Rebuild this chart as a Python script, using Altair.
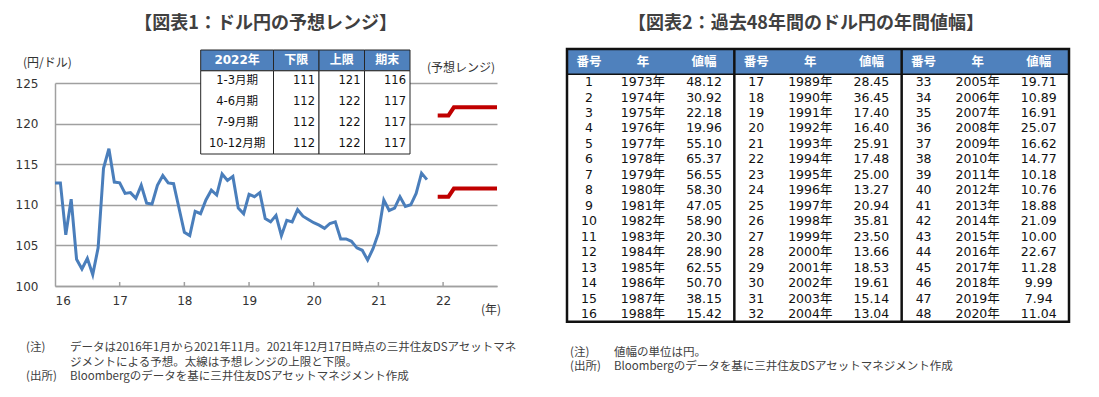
import altair as alt
import pandas as pd

# ---------------- Figure 1 data ----------------
# USD/JPY monthly (as drawn), from the first plotted month to Nov 2021
usdjpy = [112.7, 112.7, 106.3, 110.7, 103.3, 102.1, 103.4, 101.4, 104.7, 114.5, 116.9,
          112.8, 112.7, 111.4, 111.5, 110.8, 112.4, 110.2, 110.1, 112.4, 113.6, 112.7, 112.6,
          109.6, 106.6, 106.2, 109.2, 108.9, 110.6, 111.8, 111.2, 113.8, 113.0, 113.5, 109.6,
          108.9, 111.3, 111.0, 111.5, 108.3, 107.9, 108.7, 106.2, 108.1, 107.9, 109.4, 108.6,
          108.2, 107.8, 107.5, 107.1, 107.7, 107.9, 105.8, 105.8, 105.5, 104.7, 104.4, 103.2,
          104.6, 106.5, 110.6, 109.3, 109.6, 111.0, 109.8, 110.0, 111.4, 113.9, 113.1]
quarters = ["1-3月期", "4-6月期", "7-9月期", "10-12月期"]
q_low = [111, 112, 112, 112]
q_high = [121, 122, 122, 122]
q_end = [116, 117, 117, 117]
inset_header = ["2022年", "下限", "上限", "期末"]
year_labels = [16, 17, 18, 19, 20, 21, 22]

# ---------------- Figure 2 data ----------------
years = list(range(1973, 2021))
ranges = [48.12, 30.92, 22.18, 19.96, 55.10, 65.37, 56.55, 58.30, 47.05, 58.90, 20.30, 28.90,
          62.55, 50.70, 38.15, 15.42,
          28.45, 36.45, 17.40, 16.40, 25.91, 17.48, 25.00, 13.27, 20.94, 35.81, 23.50, 13.66,
          18.53, 19.61, 15.14, 13.04,
          19.71, 10.89, 16.91, 25.07, 16.62, 14.77, 10.18, 10.76, 18.88, 21.09, 10.00, 22.67,
          11.28, 9.99, 7.94, 11.04]
table_header = ["番号", "年", "値幅"]

# ---------------- styles / layout ----------------
FONT_JP = "Noto Sans CJK JP"
FONT_NUM = "DejaVu Sans, Noto Sans CJK JP"
BLUE_LINE = "#4A7EBB"
RED = "#C00000"
HEAD_BLUE = "#4F81BD"
GRID = "#A0A0A0"
TXT = "#404040"

W, H = 442, 203
N_PER_YEAR = 12
N_FORECAST_START = len(usdjpy) + 1

# ---------------- main line chart ----------------
df_act = pd.DataFrame({"t": list(range(len(usdjpy))), "v": usdjpy})
fc_rows = []
for q in range(4):
    for m in range(3):
        t = N_FORECAST_START + 3 * q + m
        fc_rows.append({"t": t, "v": q_low[q], "s": "low"})
        fc_rows.append({"t": t, "v": q_high[q], "s": "high"})
df_fc = pd.DataFrame(fc_rows)

X_MAIN = alt.Scale(domain=[0, 82], nice=False)
Y_MAIN = alt.Scale(domain=[100, 125], nice=False)
tick_vals = [N_PER_YEAR * k for k in range(len(year_labels))]

line = alt.Chart(df_act).mark_line(color=BLUE_LINE, strokeWidth=3).encode(
    x=alt.X("t:Q", scale=X_MAIN, title=None,
            axis=alt.Axis(values=tick_vals, labelExpr="16 + datum.value/12", grid=False,
                          ticks=False, tickSize=0, labelPadding=9, domainColor=GRID,
                          domainWidth=1.5, labelFont="DejaVu Sans", labelFontSize=12,
                          labelColor="#333333")),
    y=alt.Y("v:Q", scale=Y_MAIN, title=None,
            axis=alt.Axis(values=[100, 105, 110, 115, 120, 125], grid=True, gridColor=GRID,
                          gridWidth=1.5, ticks=False, tickSize=0, labelPadding=17,
                          domainColor=GRID, domainWidth=1.5, labelFont="DejaVu Sans",
                          labelFontSize=12, labelColor="#333333")),
)

fc = alt.Chart(df_fc).mark_line(color=RED, strokeWidth=4).encode(
    x=alt.X("t:Q", scale=X_MAIN, axis=None),
    y=alt.Y("v:Q", scale=Y_MAIN, axis=None),
    detail="s:N",
)

ticks = alt.Chart(pd.DataFrame({"t": tick_vals[1:]})).mark_rule(color=GRID, strokeWidth=1.5).encode(
    x=alt.X("t:Q", scale=X_MAIN, axis=None),
    y=alt.value(H), y2=alt.value(H - 4),
)

# ---------------- inset table (Figure 1) ----------------
col_w = [1.6, 1, 1, 1]
edges = [0]
for w in col_w:
    edges.append(edges[-1] + w)
IX = alt.Scale(domain=[0, edges[-1]], range=[145.7, 355], nice=False)
IY = alt.Scale(domain=[0, 5], range=[-33, 71], nice=False)

cells = pd.DataFrame({"x0": edges[:-1], "x1": edges[1:]})
inset_head_rect = alt.Chart(cells).transform_calculate(y0="0", y1="1").mark_rect(
    fill=HEAD_BLUE, stroke="#262626", strokeWidth=1).encode(
    x=alt.X("x0:Q", scale=IX, axis=None), x2="x1:Q",
    y=alt.Y("y0:Q", scale=IY, axis=None), y2="y1:Q")
inset_body_rect = alt.Chart(cells).transform_calculate(y0="1", y1="5").mark_rect(
    fill="white", stroke="#262626", strokeWidth=1).encode(
    x=alt.X("x0:Q", scale=IX, axis=None), x2="x1:Q",
    y=alt.Y("y0:Q", scale=IY, axis=None), y2="y1:Q")

df_ih = pd.DataFrame({"xc": [(edges[i] + edges[i + 1]) / 2 for i in range(4)], "txt": inset_header})
inset_head_txt = alt.Chart(df_ih).transform_calculate(yc="0.5").mark_text(
    font=FONT_NUM, fontSize=12, fontWeight="bold", color="white", baseline="middle").encode(
    x=alt.X("xc:Q", scale=IX, axis=None), y=alt.Y("yc:Q", scale=IY, axis=None), text="txt:N")

df_iq = pd.DataFrame({"r": list(range(4)), "txt": quarters, "xc": [(edges[0] + edges[1]) / 2] * 4})
inset_q_txt = alt.Chart(df_iq).transform_calculate(yc="datum.r + 1.5").mark_text(
    font=FONT_NUM, fontSize=11.5, color="#111111", baseline="middle").encode(
    x=alt.X("xc:Q", scale=IX, axis=None), y=alt.Y("yc:Q", scale=IY, axis=None), text="txt:N")

num_rows = []
for r in range(4):
    for c, vals in enumerate([q_low, q_high, q_end]):
        num_rows.append({"r": r, "xr": edges[c + 2], "txt": str(vals[r])})
inset_num_txt = alt.Chart(pd.DataFrame(num_rows)).transform_calculate(yc="datum.r + 1.5").mark_text(
    font=FONT_NUM, fontSize=11.5, color="#111111", baseline="middle", align="right", dx=-4).encode(
    x=alt.X("xr:Q", scale=IX, axis=None), y=alt.Y("yc:Q", scale=IY, axis=None), text="txt:N")

# ---------------- Figure 2 table ----------------
ROWS = 16
HH = 1.64  # header height in row units
RX = alt.Scale(domain=[0, 3], range=[512, 1014], nice=False)
RY = alt.Scale(domain=[0, HH + ROWS], range=[-34, 238.7], nice=False)
col_pos = "[0.131, 0.454, 0.819]"

recs = []
for k, (yr, val) in enumerate(zip(years, ranges)):
    g, i = divmod(k, ROWS)
    for col, txt in enumerate([str(k + 1), f"{yr}年", f"{val:.2f}"]):
        recs.append({"g": g, "row": i, "col": col, "txt": txt})
df_r = pd.DataFrame(recs)

hrecs = [{"g": g, "col": c, "txt": table_header[c]} for g in range(3) for c in range(3)]
df_rh = pd.DataFrame(hrecs)

frame = pd.DataFrame({"x0": [0], "x1": [3], "y0": [0], "y1": [HH + ROWS], "yh": [HH]})
r_head = alt.Chart(frame).mark_rect(fill=HEAD_BLUE).encode(
    x=alt.X("x0:Q", scale=RX, axis=None), x2="x1:Q",
    y=alt.Y("y0:Q", scale=RY, axis=None), y2="yh:Q")
r_hline = alt.Chart(frame).mark_rule(color="#111111", strokeWidth=1.5).encode(
    x=alt.X("x0:Q", scale=RX, axis=None), x2="x1:Q",
    y=alt.Y("yh:Q", scale=RY, axis=None))
r_div = alt.Chart(pd.DataFrame({"xd": [1, 2]})).transform_calculate(
    y0="0", y1=f"{HH + ROWS}").mark_rule(color="#111111", strokeWidth=2.5).encode(
    x=alt.X("xd:Q", scale=RX, axis=None),
    y=alt.Y("y0:Q", scale=RY, axis=None), y2="y1:Q")
r_border = alt.Chart(frame).mark_rect(fillOpacity=0, stroke="#111111", strokeWidth=2.5).encode(
    x=alt.X("x0:Q", scale=RX, axis=None), x2="x1:Q",
    y=alt.Y("y0:Q", scale=RY, axis=None), y2="y1:Q")

r_head_txt = alt.Chart(df_rh).transform_calculate(
    xp=f"datum.g + {col_pos}[datum.col]", yp=f"{HH / 2}").mark_text(
    font=FONT_JP, fontSize=12.5, fontWeight="bold", color="white", baseline="middle").encode(
    x=alt.X("xp:Q", scale=RX, axis=None), y=alt.Y("yp:Q", scale=RY, axis=None), text="txt:N")

r_body_txt = alt.Chart(df_r).transform_calculate(
    xp=f"datum.g + {col_pos}[datum.col]", yp=f"{HH} + datum.row + 0.5").mark_text(
    font=FONT_NUM, fontSize=12.5, color="#111111", baseline="middle").encode(
    x=alt.X("xp:Q", scale=RX, axis=None), y=alt.Y("yp:Q", scale=RY, axis=None), text="txt:N")


# ---------------- annotations ----------------
def note(txt, x, y, size=11.5, align="left", weight="normal", color=TXT, font=FONT_JP):
    return alt.Chart(pd.DataFrame({"label": [txt]})).mark_text(
        align=align, baseline="middle", fontSize=size, fontWeight=weight, color=color, font=font
    ).encode(x=alt.value(x), y=alt.value(y), text="label:N")


notes = [
    note("【図表1：ドル円の予想レンジ】", 210.6, -59, size=18, align="center", weight="bold"),
    note("【図表2：過去48年間のドル円の年間値幅】", 751, -59, size=18, align="center", weight="bold"),
    note("(円/ドル)", -32, -20, size=12, color="#333333"),
    note("(予想レンジ)", 406, -15, size=12, align="center", color="#333333"),
    note("(年)", 436, 227, size=12, align="center", color="#333333"),
    note("(注)", -29, 265),
    note("データは2016年1月から2021年11月。2021年12月17日時点の三井住友DSアセットマネ", 15, 265),
    note("ジメントによる予想。太線は予想レンジの上限と下限。", 15, 279.5),
    note("(出所)", -29, 294),
    note("Bloombergのデータを基に三井住友DSアセットマネジメント作成", 15, 294),
    note("(注)", 515, 269.5),
    note("値幅の単位は円。", 559, 269.5),
    note("(出所)", 515, 284),
    note("Bloombergのデータを基に三井住友DSアセットマネジメント作成", 559, 284),
]

chart = alt.layer(
    line, fc, ticks,
    inset_head_rect, inset_body_rect, inset_head_txt, inset_q_txt, inset_num_txt,
    r_head, r_hline, r_div, r_border, r_head_txt, r_body_txt,
    *notes,
).resolve_scale(x="independent", y="independent").properties(
    width=W, height=H,
    padding={"left": 47, "top": 75, "right": 590, "bottom": 100},
    autosize=alt.AutoSizeParams(type="none"),
    background="white",
).configure_view(stroke=None)

chart.save("out.html", embed_options={"renderer": "svg", "actions": False})
